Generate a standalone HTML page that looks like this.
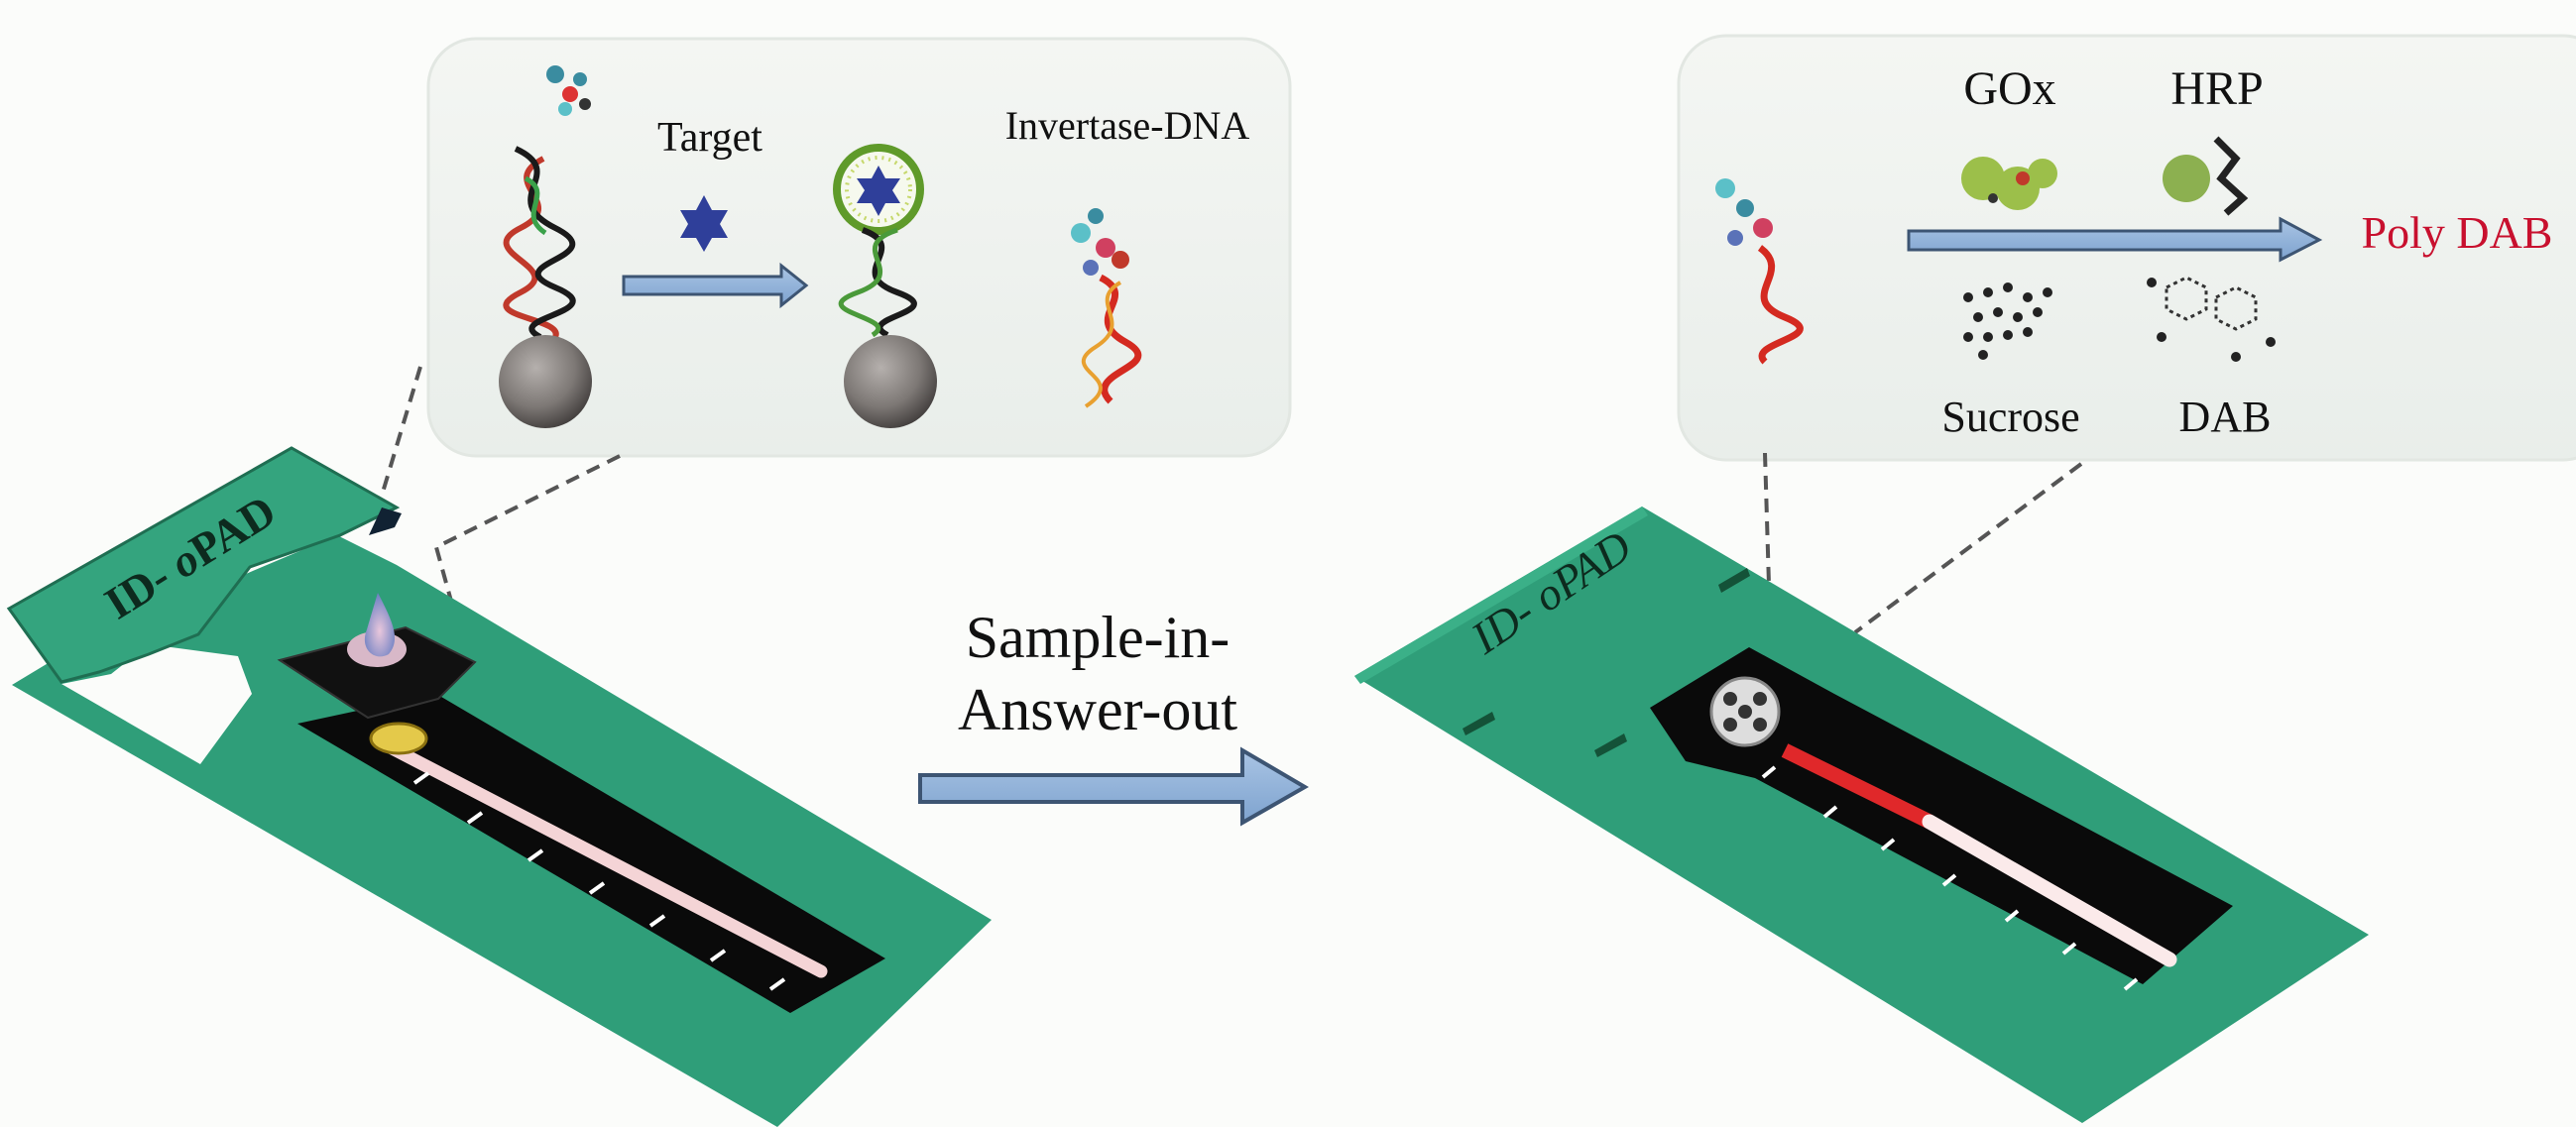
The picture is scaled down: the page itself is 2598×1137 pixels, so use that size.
<!DOCTYPE html>
<html><head><meta charset="utf-8"><style>
html,body{margin:0;padding:0;background:#fbfcfa;}
svg{display:block;}
text{font-family:"Liberation Serif",serif;}
</style></head><body>
<svg width="2598" height="1137" viewBox="0 0 2598 1137" xmlns="http://www.w3.org/2000/svg">
<defs>
<linearGradient id="pan" x1="0" y1="0" x2="0" y2="1">
<stop offset="0" stop-color="#f4f6f3"/><stop offset="1" stop-color="#e9eeea"/></linearGradient>
<radialGradient id="sph" cx="0.4" cy="0.35" r="0.7">
<stop offset="0" stop-color="#b5b0ad"/><stop offset="0.6" stop-color="#7d7875"/><stop offset="1" stop-color="#3f3b3a"/></radialGradient>
<linearGradient id="arr" x1="0" y1="0" x2="0" y2="1">
<stop offset="0" stop-color="#a9c4e4"/><stop offset="1" stop-color="#7ea3cf"/></linearGradient>
<radialGradient id="drop" cx="0.5" cy="0.6" r="0.6">
<stop offset="0" stop-color="#e9c7dc"/><stop offset="1" stop-color="#6b7fc2"/></radialGradient>
</defs>
<rect width="2598" height="1137" fill="#fbfcfa"/>

<!-- Left panel -->
<rect x="432" y="39" width="869" height="421" rx="48" fill="url(#pan)" stroke="#e2e7e2" stroke-width="3"/>
<!-- helix 1 -->
<path d="M548 160 C 500 185, 575 205, 525 230 S 575 270, 525 295 S 570 320, 560 340" fill="none" stroke="#c0392b" stroke-width="6"/>
<path d="M520 150 C 575 175, 500 200, 560 230 S 500 265, 560 290 S 505 320, 545 340" fill="none" stroke="#1a1a1a" stroke-width="6"/>
<path d="M530 180 C 560 195, 520 215, 550 235" fill="none" stroke="#3aa14a" stroke-width="5"/>
<g fill="#3a8ca0"><circle cx="560" cy="75" r="9"/><circle cx="575" cy="95" r="8" fill="#d33"/><circle cx="585" cy="80" r="7"/><circle cx="570" cy="110" r="7" fill="#5bc0c8"/><circle cx="590" cy="105" r="6" fill="#333"/></g>
<circle cx="550" cy="385" r="47" fill="url(#sph)"/>
<text x="716" y="152" font-size="42" text-anchor="middle" fill="#111">Target</text>
<polygon points="710,197 718,212 734,212 726,226 734,240 718,240 710,254 702,240 686,240 694,226 686,212 702,212" fill="#2f3f9a"/>
<path d="M629 279 H788 V268 L813 288 L788 308 V297 H629 Z" fill="url(#arr)" stroke="#3d5573" stroke-width="3"/>
<!-- loop -->
<circle cx="886" cy="191" r="42" fill="#f6f9ee" stroke="#5f9a2a" stroke-width="8"/>
<circle cx="886" cy="191" r="32" fill="none" stroke="#c6d86b" stroke-width="4" stroke-dasharray="2 5"/>
<polygon points="886,167 893,180 908,180 900,192 908,205 893,205 886,218 879,205 864,205 872,192 864,180 879,180" fill="#2f3f9a"/>
<path d="M870 232 C 920 250, 850 275, 905 295 S 860 320, 895 338" fill="none" stroke="#1a1a1a" stroke-width="6"/>
<path d="M905 232 C 850 250, 920 275, 865 295 S 910 320, 880 338" fill="none" stroke="#4a9a3a" stroke-width="5"/>
<circle cx="898" cy="385" r="47" fill="url(#sph)"/>
<text x="1137" y="140" font-size="40" text-anchor="middle" fill="#111">Invertase-DNA</text>
<g>
<circle cx="1090" cy="235" r="10" fill="#5bc0c8"/><circle cx="1105" cy="218" r="8" fill="#3a8ca0"/><circle cx="1115" cy="250" r="10" fill="#d04060"/><circle cx="1130" cy="262" r="9" fill="#c0392b"/><circle cx="1100" cy="270" r="8" fill="#5a72b8"/>
<path d="M1110 280 C 1150 300, 1090 320, 1135 345 S 1090 375, 1120 405" fill="none" stroke="#d42a20" stroke-width="7"/>
<path d="M1130 285 C 1095 305, 1145 325, 1105 350 S 1140 380, 1095 410" fill="none" stroke="#e8a030" stroke-width="4"/>
</g>
<!-- dashed lines left -->
<path d="M424 370 L385 500 M625 460 L440 552 L456 610" fill="none" stroke="#555" stroke-width="4" stroke-dasharray="14 9"/>

<!-- Left strip -->
<polygon points="12,691 80,650 340,540 400,570 1000,928 784,1137" fill="#2f9e79"/>
<polygon points="62,690 202,771 254,700 240,662 150,650 112,680" fill="#fbfcfa"/>
<polygon points="9,614 294,452 400,512 343,540 252,572 200,640 150,660 100,678 62,688" fill="#34a47e" stroke="#1f6e52" stroke-width="3"/>
<polygon points="385,512 405,518 398,532 372,540" fill="#123"/>
<text x="0" y="0" font-size="46" font-weight="bold" fill="#0d2a1e" transform="translate(200,575) rotate(-32)" text-anchor="middle">ID- <tspan font-style="italic">o</tspan>PAD</text>
<polygon points="300,730 440,700 893,967 797,1022" fill="#0a0a0a"/>
<line x1="382" y1="748" x2="828" y2="980" stroke="#f4d4d6" stroke-width="13" stroke-linecap="round"/>
<g stroke="#fff" stroke-width="4">
<line x1="418" y1="790" x2="432" y2="780"/><line x1="472" y1="830" x2="486" y2="820"/><line x1="533" y1="868" x2="547" y2="858"/><line x1="595" y1="901" x2="609" y2="891"/><line x1="656" y1="934" x2="670" y2="924"/><line x1="717" y1="969" x2="731" y2="959"/><line x1="777" y1="998" x2="791" y2="988"/>
</g>
<polygon points="282,666 409,633 479,668 442,705 371,724" fill="#111" stroke="#333" stroke-width="2"/>
<ellipse cx="402" cy="745" rx="28" ry="15" fill="#e4c94a" stroke="#8a7010" stroke-width="3"/>
<ellipse cx="380" cy="655" rx="30" ry="18" fill="#d8b8c8"/>
<path d="M381 598 C 395 625, 405 645, 392 660 C 378 668, 362 655, 370 635 Z" fill="url(#drop)"/>

<!-- middle text + arrow -->
<text x="1107" y="663" font-size="60" text-anchor="middle" fill="#111">Sample-in-</text>
<text x="1107" y="736" font-size="60" text-anchor="middle" fill="#111">Answer-out</text>
<path d="M928 782 H1253 V757 L1316 794 L1253 830 V809 H928 Z" fill="url(#arr)" stroke="#3d5573" stroke-width="4"/>

<!-- Right panel -->
<rect x="1693" y="36" width="940" height="428" rx="48" fill="url(#pan)" stroke="#e2e7e2" stroke-width="3"/>
<g>
<circle cx="1740" cy="190" r="10" fill="#5bc0c8"/><circle cx="1760" cy="210" r="9" fill="#3a8ca0"/><circle cx="1778" cy="230" r="10" fill="#d04060"/><circle cx="1750" cy="240" r="8" fill="#5a72b8"/>
<path d="M1775 250 C 1810 275, 1750 300, 1800 320 S 1760 345, 1780 365" fill="none" stroke="#d42a20" stroke-width="7"/>
</g>
<text x="2027" y="105" font-size="48" text-anchor="middle" fill="#111">GOx</text>
<text x="2236" y="105" font-size="48" text-anchor="middle" fill="#111">HRP</text>
<g fill="#9cbf4a"><circle cx="2000" cy="180" r="22"/><circle cx="2035" cy="190" r="22"/><circle cx="2060" cy="175" r="15"/></g>
<g fill="#c0392b"><circle cx="2040" cy="180" r="7"/><circle cx="2010" cy="200" r="5" fill="#333"/></g>
<g fill="#8cb050"><circle cx="2205" cy="180" r="24"/></g>
<path d="M2235 140 L2255 160 L2240 180 L2262 200 L2245 215" fill="none" stroke="#222" stroke-width="7"/>
<path d="M1925 233 H2300 V221 L2339 242 L2300 262 V252 H1925 Z" fill="url(#arr)" stroke="#3d5573" stroke-width="3"/>
<text x="2478" y="250" font-size="46" text-anchor="middle" fill="#c8102e">Poly DAB</text>
<g fill="#222">
<circle cx="1985" cy="300" r="5"/><circle cx="2005" cy="295" r="5"/><circle cx="2025" cy="290" r="5"/><circle cx="2045" cy="300" r="5"/><circle cx="2065" cy="295" r="5"/><circle cx="1995" cy="320" r="5"/><circle cx="2015" cy="315" r="5"/><circle cx="2035" cy="320" r="5"/><circle cx="2055" cy="315" r="5"/><circle cx="1985" cy="340" r="5"/><circle cx="2005" cy="340" r="5"/><circle cx="2025" cy="338" r="5"/><circle cx="2000" cy="358" r="5"/><circle cx="2045" cy="335" r="5"/>
</g>
<g fill="none" stroke="#333" stroke-width="3" stroke-dasharray="4 4">
<polygon points="2185,290 2205,280 2225,290 2225,312 2205,322 2185,312"/>
<polygon points="2235,300 2255,290 2275,300 2275,322 2255,332 2235,322"/>
</g>
<g fill="#222"><circle cx="2170" cy="285" r="5"/><circle cx="2290" cy="345" r="5"/><circle cx="2255" cy="360" r="5"/><circle cx="2180" cy="340" r="5"/></g>
<text x="2028" y="435" font-size="44" text-anchor="middle" fill="#111">Sucrose</text>
<text x="2244" y="435" font-size="44" text-anchor="middle" fill="#111">DAB</text>
<path d="M1780 457 L1784 590 M2099 468 L1871 638" fill="none" stroke="#555" stroke-width="4" stroke-dasharray="14 9"/>

<!-- Right strip -->
<polygon points="1366,682 1656,511 2389,943 2100,1133" fill="#2f9e79"/>
<polygon points="1366,682 1656,511 1662,520 1372,690" fill="#3bb088"/>
<text x="0" y="0" font-size="46" font-style="italic" fill="#0d2a1e" transform="translate(1573,610) rotate(-34)" text-anchor="middle">ID- oPAD</text>
<g fill="#145238">
<polygon points="1475,735 1505,718 1508,726 1478,742"/>
<polygon points="1608,757 1638,740 1641,748 1611,764"/>
<polygon points="1733,590 1762,573 1765,581 1736,598"/>
</g>
<polygon points="1664,714 1764,653 1850,700 2252,914 2161,993 1770,785 1700,768" fill="#0a0a0a"/>
<line x1="1800" y1="757" x2="1946" y2="829" stroke="#e0282a" stroke-width="15"/>
<line x1="1946" y1="829" x2="2188" y2="968" stroke="#fbeaea" stroke-width="15" stroke-linecap="round"/>
<circle cx="1760" cy="718" r="34" fill="#ddd" stroke="#888" stroke-width="3"/>
<g fill="#333"><circle cx="1760" cy="718" r="7"/><circle cx="1745" cy="705" r="7"/><circle cx="1775" cy="705" r="7"/><circle cx="1745" cy="731" r="7"/><circle cx="1775" cy="731" r="7"/></g>
<g stroke="#fff" stroke-width="4">
<line x1="1778" y1="784" x2="1790" y2="774"/><line x1="1840" y1="824" x2="1852" y2="814"/><line x1="1898" y1="857" x2="1910" y2="847"/><line x1="1960" y1="893" x2="1972" y2="883"/><line x1="2023" y1="929" x2="2035" y2="919"/><line x1="2081" y1="962" x2="2093" y2="952"/><line x1="2143" y1="998" x2="2155" y2="988"/>
</g>
</svg>
</body></html>
